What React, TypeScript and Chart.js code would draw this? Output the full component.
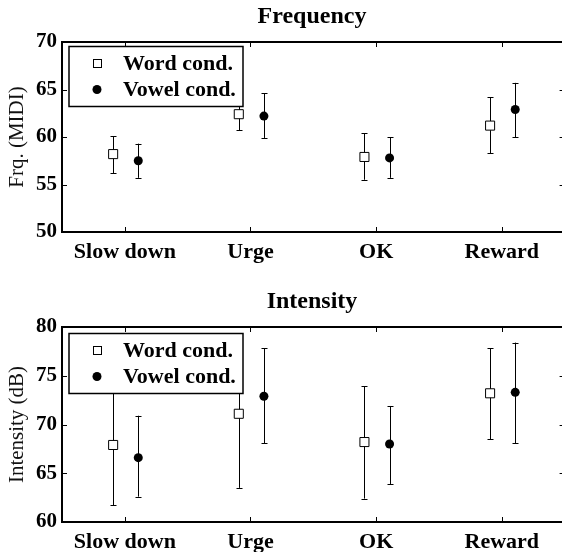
import React, { useEffect, useRef } from "react";
import { Chart, registerables } from "chart.js";

Chart.register(...registerables);

const categories = ["Slow down", "Urge", "OK", "Reward"];
const seriesNames = ["Word cond.", "Vowel cond."];

const freqWord = [58.2, 62.4, 57.9, 61.2];
const freqWordLow = [56.2, 60.7, 55.5, 58.3];
const freqWordHigh = [60.1, 64.0, 60.4, 64.2];
const freqVowel = [57.5, 62.2, 57.8, 62.9];
const freqVowelLow = [55.7, 59.9, 55.7, 60.0];
const freqVowelHigh = [59.3, 64.6, 60.0, 65.7];

const intWord = [67.9, 71.1, 68.2, 73.2];
const intWordLow = [61.7, 63.5, 62.4, 68.5];
const intWordHigh = [74.1, 78.8, 73.9, 77.8];
const intVowel = [66.6, 72.9, 68.0, 73.3];
const intVowelLow = [62.6, 68.1, 63.9, 68.1];
const intVowelHigh = [70.9, 77.8, 71.9, 78.4];

const freqTicks = [50, 55, 60, 65, 70];
const intTicks = [60, 65, 70, 75, 80];

const SERIF = '"Liberation Serif", "Times New Roman", serif';
const WORD_OFF = -0.093;
const VOWEL_OFF = 0.107;

type PanelProps = {
  title: string;
  yLabel: string;
  word: number[];
  wordLow: number[];
  wordHigh: number[];
  vowel: number[];
  vowelLow: number[];
  vowelHigh: number[];
  ticks: number[];
  padTop: number;
  xAxisHeight: number;
  legendDy: number;
};

function Panel(p: PanelProps) {
  const ref = useRef<HTMLCanvasElement | null>(null);
  useEffect(() => {
    const canvas = ref.current;
    if (!canvas) return;

    const errPlugin = {
      id: "errbars",
      beforeDatasetsDraw(chart: any) {
        const { ctx, scales } = chart;
        const xs = scales.x;
        const ys = scales.y;
        ctx.save();
        ctx.strokeStyle = "#000";
        ctx.lineWidth = 1;
        const groups = [
          { off: WORD_OFF, lo: p.wordLow, hi: p.wordHigh },
          { off: VOWEL_OFF, lo: p.vowelLow, hi: p.vowelHigh },
        ];
        groups.forEach((g) => {
          categories.forEach((_, i) => {
            const px = Math.round(xs.getPixelForValue(i + 1 + g.off)) + 0.5;
            const y1 = ys.getPixelForValue(g.lo[i]);
            const y2 = ys.getPixelForValue(g.hi[i]);
            ctx.beginPath();
            ctx.moveTo(px, y1);
            ctx.lineTo(px, y2);
            ctx.moveTo(px - 3, Math.round(y1) + 0.5);
            ctx.lineTo(px + 3, Math.round(y1) + 0.5);
            ctx.moveTo(px - 3, Math.round(y2) + 0.5);
            ctx.lineTo(px + 3, Math.round(y2) + 0.5);
            ctx.stroke();
          });
        });
        ctx.restore();
      },
    };

    const framePlugin = {
      id: "frame",
      afterDatasetsDraw(chart: any) {
        const { ctx, chartArea, scales } = chart;
        const { left, right, top, bottom } = chartArea;
        const xs = scales.x;
        const ys = scales.y;
        ctx.save();
        ctx.strokeStyle = "#000";
        ctx.lineWidth = 1;
        const tl = 5;
        ctx.beginPath();
        categories.forEach((_, i) => {
          const px = Math.round(xs.getPixelForValue(i + 1)) + 0.5;
          ctx.moveTo(px, bottom);
          ctx.lineTo(px, bottom - tl);
          ctx.moveTo(px, top);
          ctx.lineTo(px, top + tl);
        });
        p.ticks.forEach((t) => {
          const py = Math.round(ys.getPixelForValue(t)) + 0.5;
          ctx.moveTo(left, py);
          ctx.lineTo(left + tl, py);
          ctx.moveTo(right, py);
          ctx.lineTo(right - tl, py);
        });
        ctx.stroke();
        ctx.lineWidth = 2;
        ctx.strokeRect(left, top, right - left, bottom - top);

        // legend
        const bx = left + 7;
        const by = top + p.legendDy;
        const bw = 174;
        const bh = 60;
        ctx.fillStyle = "#fff";
        ctx.fillRect(bx, by, bw, bh);
        ctx.lineWidth = 1.5;
        ctx.strokeRect(bx, by, bw, bh);
        const r1 = by + 17;
        const r2 = by + 43;
        const mx = bx + 28;
        ctx.lineWidth = 1;
        ctx.strokeRect(Math.round(mx - 4.5) + 0.5, Math.round(r1 - 4.5) + 0.5, 8, 8);
        ctx.fillStyle = "#000";
        ctx.beginPath();
        ctx.arc(mx, r2, 4.5, 0, Math.PI * 2);
        ctx.fill();
        ctx.font = `bold 22px ${SERIF}`;
        ctx.textBaseline = "middle";
        ctx.textAlign = "left";
        ctx.fillText(seriesNames[0], bx + 54, r1 + 1);
        ctx.fillText(seriesNames[1], bx + 54, r2 + 1);

        // title
        ctx.font = `bold 24px ${SERIF}`;
        ctx.textAlign = "center";
        ctx.textBaseline = "alphabetic";
        ctx.fillText(p.title, (left + 562) / 2, top - 19);
        ctx.restore();
      },
    };

    const chart = new Chart(canvas, {
      type: "scatter",
      data: {
        datasets: [
          {
            label: seriesNames[0],
            data: p.word.map((v, i) => ({ x: i + 1 + WORD_OFF, y: v })),
            pointStyle: "rect",
            pointRadius: 6.4,
            pointBackgroundColor: "#fff",
            pointBorderColor: "#000",
            pointBorderWidth: 1,
            showLine: false,
          },
          {
            label: seriesNames[1],
            data: p.vowel.map((v, i) => ({ x: i + 1 + VOWEL_OFF, y: v })),
            pointStyle: "circle",
            pointRadius: 4.5,
            pointBackgroundColor: "#000",
            pointBorderColor: "#000",
            pointBorderWidth: 0,
            showLine: false,
          },
        ],
      },
      options: {
        responsive: false,
        animation: false,
        devicePixelRatio: 1,
        layout: { padding: { top: p.padTop, right: 6, left: 0, bottom: 0 } },
        plugins: {
          legend: { display: false },
          tooltip: { enabled: false },
          title: { display: false },
        },
        scales: {
          x: {
            type: "linear",
            min: 0.5,
            max: 4.5,
            afterBuildTicks: (s: any) => {
              s.ticks = categories.map((_, i) => ({ value: i + 1 }));
            },
            afterFit: (s: any) => {
              s.height = p.xAxisHeight;
            },
            grid: { display: false, drawTicks: false },
            border: { display: false },
            ticks: {
              callback: (v: any) => categories[Number(v) - 1] ?? "",
              font: { family: SERIF, size: 22, weight: "bold" },
              color: "#000",
              padding: 7,
              maxRotation: 0,
              autoSkip: false,
            },
          },
          y: {
            min: p.ticks[0],
            max: p.ticks[p.ticks.length - 1],
            afterBuildTicks: (s: any) => {
              s.ticks = p.ticks.map((v) => ({ value: v }));
            },
            afterFit: (s: any) => {
              s.width = 62;
            },
            grid: { display: false, drawTicks: false },
            border: { display: false },
            ticks: {
              font: { family: SERIF, size: 21, weight: "bold" },
              color: "#000",
              padding: 5,
            },
            title: {
              display: true,
              text: p.yLabel,
              font: { family: SERIF, size: 21 },
              color: "#111",
              padding: { top: 5, bottom: 0 },
            },
          },
        },
      } as any,
      plugins: [errPlugin, framePlugin],
    });
    return () => chart.destroy();
  }, []);
  return (
    <canvas
      ref={ref}
      width={572}
      height={276}
      style={{ display: "block", width: 572, height: 276 }}
    />
  );
}

export default function App() {
  return (
    <div
      style={{
        position: "absolute",
        left: 0,
        top: 0,
        width: 562,
        height: 552,
        overflow: "hidden",
        background: "#fff",
      }}
    >
      <Panel
        title="Frequency"
        yLabel="Frq. (MIDI)"
        word={freqWord}
        wordLow={freqWordLow}
        wordHigh={freqWordHigh}
        vowel={freqVowel}
        vowelLow={freqVowelLow}
        vowelHigh={freqVowelHigh}
        ticks={freqTicks}
        padTop={42}
        xAxisHeight={44}
        legendDy={4.5}
      />
      <Panel
        title="Intensity"
        yLabel="Intensity (dB)"
        word={intWord}
        wordLow={intWordLow}
        wordHigh={intWordHigh}
        vowel={intVowel}
        vowelLow={intVowelLow}
        vowelHigh={intVowelHigh}
        ticks={intTicks}
        padTop={51}
        xAxisHeight={30}
        legendDy={6.5}
      />
    </div>
  );
}
